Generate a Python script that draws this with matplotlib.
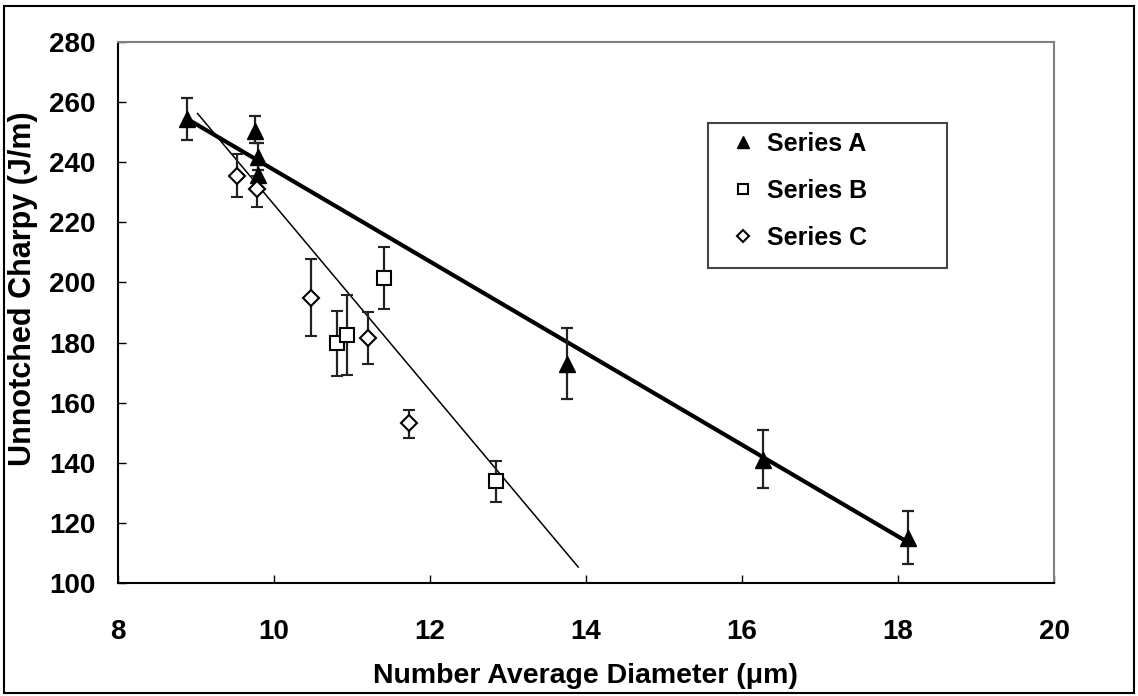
import matplotlib
matplotlib.use("Agg")
import matplotlib.pyplot as plt
from matplotlib.patches import Rectangle

plt.rcParams['font.family'] = ['Liberation Sans', 'DejaVu Sans']
plt.rcParams['font.weight'] = 'bold'

# Series A (filled triangles)
a_x = [8.88, 9.76, 9.80, 9.80, 13.76, 16.27, 18.13]
a_y = [254.5, 250.5, 241.8, 235.8, 172.9, 140.8, 115.1]
a_err_up = [7.0, 5.0, 4.5, 4.0, 12.0, 10.2, 8.8]
a_err_dn = [7.0, 4.0, 4.5, 4.0, 11.7, 9.2, 8.7]

# Series B (open squares)
b_x = [10.81, 10.93, 11.41, 12.85]
b_y = [179.8, 182.6, 201.6, 133.9]
b_err_up = [10.6, 13.3, 10.3, 6.8]
b_err_dn = [11.0, 13.4, 10.5, 6.8]

# Series C (open diamonds)
c_x = [9.52, 9.78, 10.47, 11.20, 11.73]
c_y = [235.3, 231.0, 194.9, 181.6, 153.1]
c_err_up = [7.4, 4.5, 12.8, 8.5, 4.6]
c_err_dn = [7.0, 6.0, 12.8, 8.8, 4.8]

# Trend lines (end points)
fit_a_x = [8.88, 18.13]
fit_a_y = [254.5, 113.5]
fit_bc_x = [9.02, 13.90]
fit_bc_y = [256.2, 105.3]

x_ticks = [8, 10, 12, 14, 16, 18, 20]
y_ticks = [100, 120, 140, 160, 180, 200, 220, 240, 260, 280]

fig = plt.figure(figsize=(11.38, 6.96), dpi=100)
ax = fig.add_axes([0.1037, 0.1624, 0.8225, 0.7773])

ax.plot(fit_a_x, fit_a_y, color='black', lw=3.0, zorder=2)
ax.plot(fit_bc_x, fit_bc_y, color='black', lw=1.1, zorder=2)

ek = dict(ecolor='#222222', elinewidth=1.6, capsize=4, capthick=1.6, zorder=3)
ax.errorbar(a_x, a_y, yerr=[a_err_dn, a_err_up], fmt='^', ms=11.5,
            mfc='black', mec='black', label='Series A', **ek)
ax.errorbar(b_x, b_y, yerr=[b_err_dn, b_err_up], fmt='s', ms=10,
            mfc='white', mec='black', mew=1.5, label='Series B', **ek)
ax.errorbar(c_x, c_y, yerr=[c_err_dn, c_err_up], fmt='D', ms=8,
            mfc='white', mec='black', mew=1.5, label='Series C', **ek)

ax.set_xlim(8, 20)
ax.set_ylim(100, 280)
ax.set_xticks(x_ticks)
ax.set_yticks(y_ticks)
ax.tick_params(direction='in', length=6, width=1, labelsize=20)
ax.tick_params(axis='x', pad=26)
ax.tick_params(axis='y', pad=16)
for lab in ax.get_xticklabels() + ax.get_yticklabels():
    lab.set_fontweight('bold')

for s in ['left', 'bottom']:
    ax.spines[s].set_color('black')
    ax.spines[s].set_linewidth(1.5)
for s in ['top', 'right']:
    ax.spines[s].set_color('#808080')
    ax.spines[s].set_linewidth(1.5)

fig.text(585 / 1138, 1 - 676 / 696, 'Number Average Diameter (μm)', fontsize=20.5,
         fontweight='bold', ha='center', va='center')
fig.text(23 / 1138, 1 - 289 / 696, 'Unnotched Charpy (J/m)', fontsize=22,
         fontweight='bold', ha='center', va='center', rotation=90)

h, l = ax.get_legend_handles_labels()
h = [hh[0] for hh in h]
leg = ax.legend(h, l, loc='upper left', bbox_to_anchor=(0.6544, 0.8335), frameon=False,
                prop={'size': 18, 'weight': 'bold'},
                labelspacing=0.92, handlelength=1.0, handletextpad=0.45,
                borderpad=0.0, borderaxespad=0.0, markerscale=0.75)
for t in leg.get_texts():
    t.set_fontweight('bold')

ax.add_patch(Rectangle((0.6303, 0.5823), 0.8857 - 0.6303, 0.8503 - 0.5823,
                       transform=ax.transAxes, fill=False, edgecolor='#444444',
                       lw=1.5, zorder=5))

fig.patches.append(Rectangle((0.0035, 0.004), 0.993, 0.9875, transform=fig.transFigure,
                             fill=False, edgecolor='black', lw=1.5))

fig.savefig('out.png', dpi=100)
